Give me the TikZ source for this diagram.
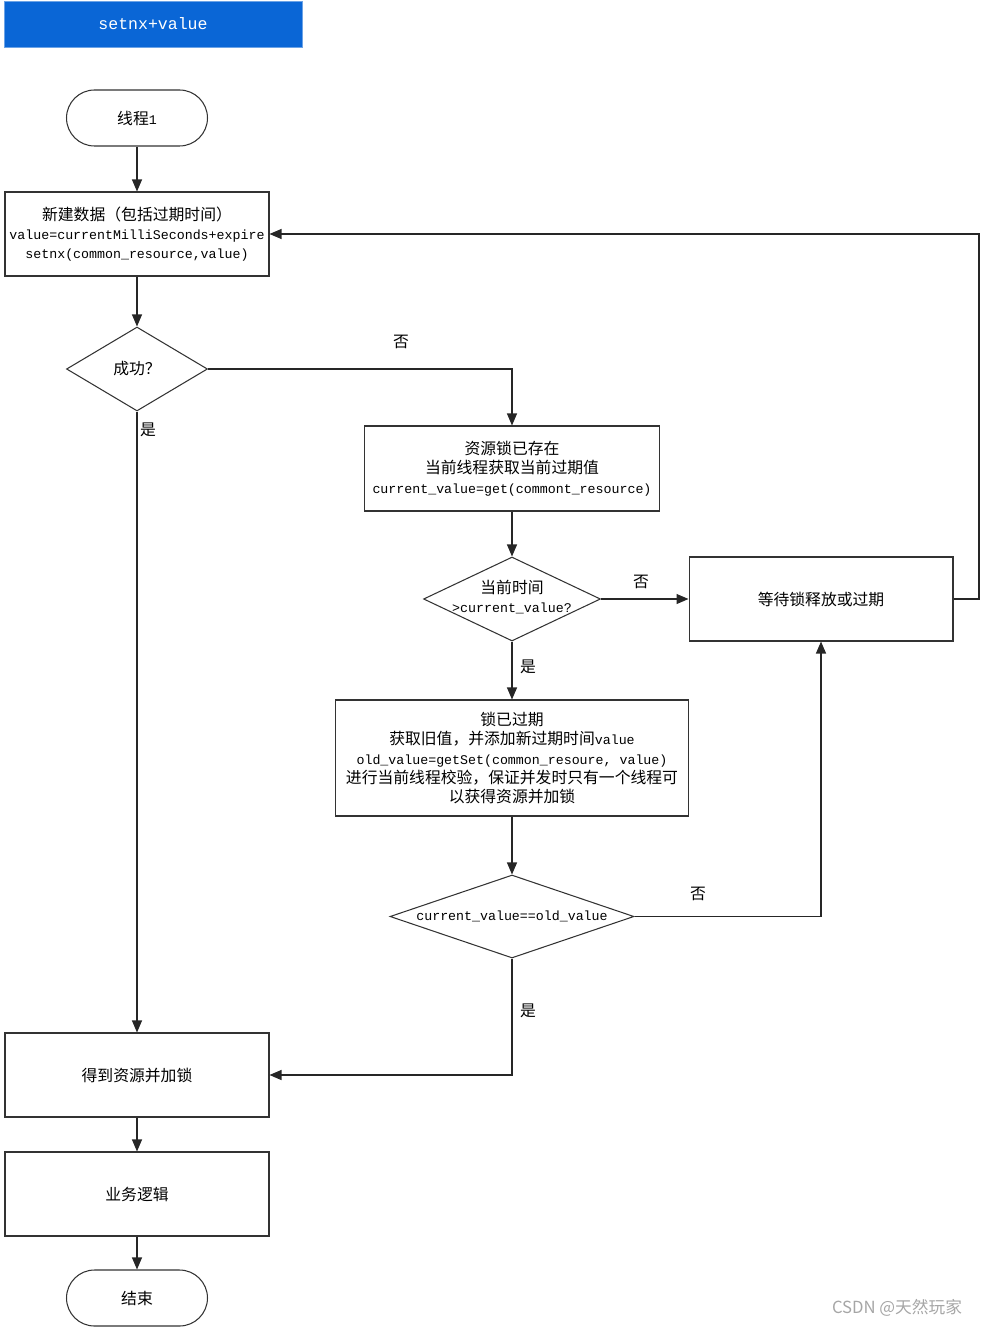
\documentclass[tikz,border=0pt]{standalone}
\usepackage{fontspec}
\setmainfont{Noto Sans CJK SC}
\setmonofont[Scale=0.84]{Liberation Mono}
\usetikzlibrary{arrows.meta,shapes.geometric}
\definecolor{tittelblaa}{RGB}{10,102,214}
\newcommand{\zw}[1]{\makebox[0pt]{#1}}
\tikzset{
    >={Triangle[length=0.24cm,width=0.2cm]},
    tekst/.style={
           font=\fontsize{9pt}{11pt}\selectfont},
    boks/.style={
           tekst,
           rectangle,
           draw=black!80, line width=0.6pt,
           minimum width=5.28cm,
           minimum height=1.68cm,
           inner xsep=1pt,
           align=center},
    ende/.style={
           tekst,
           rectangle, rounded corners=0.56cm,
           draw=black!80, line width=0.6pt,
           minimum width=2.82cm,
           minimum height=1.12cm},
    valg/.style={
           tekst,
           diamond, aspect=1,
           draw=black!80, line width=0.6pt,
           inner sep=0pt,
           minimum width=2.82cm,
           minimum height=1.68cm},
    merke/.style={
           tekst},
    pil/.style={
           ->,
           draw=black!85, line width=0.6pt}
}

\begin{document}
\begin{tikzpicture}[x=0.02cm, y=-0.02cm]
        \useasboundingbox (0,0) rectangle (981,1327);

        \node[fill=tittelblaa, draw=tittelblaa!60, minimum width=5.96cm, minimum height=0.92cm,
              text=white, font=\fontsize{11.2pt}{13pt}\selectfont] (tittel) at (153,24) {\texttt{setnx+value}};

        \node[ende] (start) at (137,118) {线程\texttt{1}};
        \node[boks] (nytt) at (137,234) {新建数据（包括过期时间）\\\texttt{value=currentMilliSeconds+expire}\\\texttt{setnx(common\_resource,value)}};
        \node[valg] (ok) at (137,369) {\zw{成功？}};
        \node[boks, minimum width=5.9cm, minimum height=1.7cm] (finnes) at (512,468.5)
             {资源锁已存在\\当前线程获取当前过期值\\\texttt{current\_value=get(commont\_resource)}};
        \node[valg, minimum width=3.54cm] (tid) at (512,599)
             {\zw{\begin{tabular}{@{}c@{}}当前时间\\\texttt{>current\_value?}\end{tabular}}};
        \node[boks] (vent) at (821,599) {等待锁释放或过期};
        \node[boks, minimum width=7.06cm, minimum height=2.32cm] (utlopt) at (512,758)
             {锁已过期\\获取旧值，并添加新过期时间\texttt{value}\\\texttt{old\_value=getSet(common\_resoure, value)}\\进行当前线程校验，保证并发时只有一个线程可\\以获得资源并加锁};
        \node[valg, minimum width=4.88cm, minimum height=1.66cm] (lik) at (512,916.5)
             {\zw{\texttt{current\_value==old\_value}}};
        \node[boks] (laas) at (137,1075) {得到资源并加锁};
        \node[boks] (logikk) at (137,1194) {业务逻辑};
        \node[ende] (slutt) at (137,1298) {结束};

        \coordinate (retur) at (979,599);

        \draw[pil] (start) -- (nytt);
        \draw[pil] (nytt) -- (ok);
        \draw[pil] (ok.east) -| (finnes.north);
        \draw[pil] (ok.south) -- (laas.north);
        \draw[pil] (finnes) -- (tid);
        \draw[pil] (tid.east) -- (vent.west);
        \draw[pil] (tid.south) -- (utlopt.north);
        \draw[pil] (vent.east) -- (retur) |- (nytt.east);
        \draw[pil] (utlopt) -- (lik);
        \draw[pil] (lik.east) -| (vent.south);
        \draw[pil] (lik.south) |- (laas.east);
        \draw[pil] (laas) -- (logikk);
        \draw[pil] (logikk) -- (slutt);

        \node[merke] (nei1) at (401,342) {否};
        \node[merke] (ja1) at (148,430) {是};
        \node[merke] (nei2) at (641,582) {否};
        \node[merke] (ja2) at (528,667) {是};
        \node[merke] (nei3) at (698,894) {否};
        \node[merke] (ja3) at (528,1011) {是};

        \node[text=black!35, font=\fontsize{9.5pt}{11pt}\selectfont] (csdn) at (897,1308) {CSDN @天然玩家};
\end{tikzpicture}
\end{document}
